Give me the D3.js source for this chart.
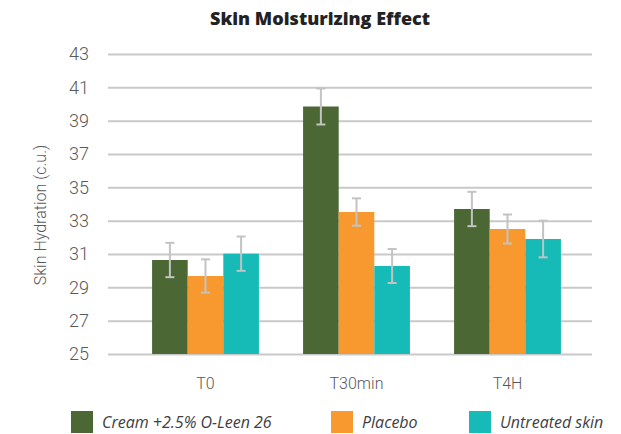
<!DOCTYPE html>
<html>
<head>
<meta charset="utf-8">
<script src="https://cdn.jsdelivr.net/npm/d3@7"></script>
<style>
  body { margin: 0; background: #fff; }
  svg { display: block; }
</style>
</head>
<body>
<svg id="chart" width="621" height="434"></svg>
<script>
// data
var categories = ["T0", "T30min", "T4H"];
var seriesNames = ["Cream +2.5% O-Leen 26", "Placebo", "Untreated skin"];
var seriesColors = ["#4b6734", "#f7992e", "#16bab7"];
var creamValues = [30.64, 39.85, 33.70];
var placeboValues = [29.68, 33.52, 32.50];
var untreatedValues = [31.02, 30.28, 31.90];
var creamErrors = [1.03, 1.08, 1.03];
var placeboErrors = [1.0, 0.82, 0.87];
var untreatedErrors = [1.03, 1.02, 1.1];
var yTicks = [25, 27, 29, 31, 33, 35, 37, 39, 41, 43];

var values = [creamValues, placeboValues, untreatedValues];
var errors = [creamErrors, placeboErrors, untreatedErrors];

var svg = d3.select("#chart");
var light = "Roboto, 'Noto Sans', sans-serif";

var gridLeft = 108, gridRight = 592;
var y = d3.scaleLinear().domain([25, 43]).range([354, 54]);
var x = d3.scaleBand().domain(categories).range([130, 583]);
var xs = d3.scaleBand().domain(d3.range(seriesNames.length))
    .range([0, x.bandwidth()]).paddingOuter(0.62).paddingInner(0);

// title
svg.append("text")
    .attr("x", 320)
    .attr("y", 25)
    .attr("text-anchor", "middle")
    .style("font-family", "'Open Sans', sans-serif")
    .style("font-weight", 800)
    .style("font-size", "18px")
    .style("fill", "#222")
    .text("Skin Moisturizing Effect");

// y axis + grid
var yAxis = svg.append("g")
    .attr("transform", "translate(" + gridLeft + ",0)")
    .call(d3.axisLeft(y)
        .tickValues(yTicks)
        .tickSize(-(gridRight - gridLeft))
        .tickPadding(19)
        .tickFormat(d3.format("d")));
yAxis.select(".domain").remove();
yAxis.selectAll("line").attr("stroke", "#c9c9c9").attr("stroke-width", 2);
yAxis.selectAll("text")
    .style("font-family", light)
    .style("font-weight", 300)
    .style("font-size", "18px")
    .style("fill", "#595959");

svg.append("text")
    .attr("transform", "translate(46,215) rotate(-90)")
    .attr("text-anchor", "middle")
    .style("font-family", light)
    .style("font-weight", 300)
    .style("font-size", "16px")
    .style("fill", "#595959")
    .text("Skin Hydration (c.u.)");

// bars
var groups = svg.append("g").selectAll("g")
    .data(categories)
    .enter().append("g")
    .attr("transform", function (d) { return "translate(" + x(d) + ",0)"; });

function groupData(d, ci) {
    return seriesNames.map(function (s, si) {
        return {si: si, v: values[si][ci], e: errors[si][ci]};
    });
}

groups.selectAll("rect")
    .data(groupData)
    .enter().append("rect")
    .attr("x", function (d) { return xs(d.si); })
    .attr("width", xs.bandwidth())
    .attr("y", function (d) { return y(d.v); })
    .attr("height", function (d) { return y(25) - y(d.v); })
    .attr("fill", function (d) { return seriesColors[d.si]; });

// error bars
var eb = groups.selectAll("g.err")
    .data(groupData)
    .enter().append("g")
    .attr("class", "err")
    .attr("stroke", "#c3c3c3")
    .attr("stroke-width", 2);

eb.append("line")
    .attr("x1", function (d) { return xs(d.si) + xs.bandwidth() / 2; })
    .attr("x2", function (d) { return xs(d.si) + xs.bandwidth() / 2; })
    .attr("y1", function (d) { return y(d.v + d.e); })
    .attr("y2", function (d) { return y(d.v - d.e); });
[1, -1].forEach(function (sign) {
    eb.append("line")
        .attr("x1", function (d) { return xs(d.si) + xs.bandwidth() / 2 - 4.5; })
        .attr("x2", function (d) { return xs(d.si) + xs.bandwidth() / 2 + 4.5; })
        .attr("y1", function (d) { return y(d.v + sign * d.e); })
        .attr("y2", function (d) { return y(d.v + sign * d.e); });
});

// x axis labels
var xAxis = svg.append("g")
    .attr("transform", "translate(0,378)")
    .call(d3.axisBottom(x).tickSize(0).tickPadding(0));
xAxis.select(".domain").remove();
xAxis.selectAll("text")
    .attr("dy", "0.71em")
    .style("font-family", light)
    .style("font-weight", 300)
    .style("font-size", "16px")
    .style("fill", "#595959");

// legend
var legendX = [71, 331, 469];
var legend = svg.append("g").selectAll("g")
    .data(seriesNames)
    .enter().append("g")
    .attr("transform", function (d, i) { return "translate(" + legendX[i] + ",411)"; });
legend.append("rect")
    .attr("width", 22)
    .attr("height", 22)
    .attr("fill", function (d, i) { return seriesColors[i]; });
legend.append("text")
    .attr("x", 31)
    .attr("y", 17)
    .style("font-family", "'Open Sans', sans-serif")
    .style("font-style", "italic")
    .style("font-size", "16px")
    .style("fill", "#404040")
    .text(function (d) { return d; });
</script>
</body>
</html>
